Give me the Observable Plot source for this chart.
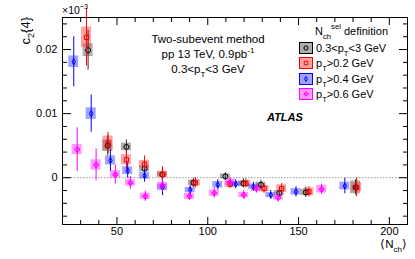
<!DOCTYPE html>
<html><head><meta charset="utf-8">
<script src="https://cdn.jsdelivr.net/npm/d3@7"></script>
<script src="https://cdn.jsdelivr.net/npm/@observablehq/plot@0.6"></script>
<style>body{margin:0;background:#fff;} svg{font-family:"Liberation Sans",Arial,sans-serif;}</style>
</head><body><div id="chart"></div>
<script>
// --- data ---
const grayX = [34.1, 44.9, 55.2, 65.2, 75.0, 92.1, 109.7, 119.6, 129.3, 139.4, 154.0, 181.4];
const grayY = [0.0199, 0.0050, 0.0048, 0.0014, 0.0005, -0.0008, 0.0002, -0.0009, -0.0011, -0.0024, -0.0023, -0.0015];
const grayStat = [0.0031, 0.0016, 0.0011, 0.0011, 0.0010, 0.0007, 0.0006, 0.0007, 0.0007, 0.0007, 0.0008, 0.0012];
const graySys = [0.0010, 0.0009, 0.0006, 0.0005, 0.0004, 0.0004, 0.0004, 0.0004, 0.0004, 0.0004, 0.0005, 0.0010];

const redX = [33.2, 45.1, 55.2, 65.2, 75.1, 93.2, 112.3, 121.0, 131.0, 140.7, 155.7, 182.0];
const redY = [0.0219, 0.0054, 0.0028, 0.0021, 0.0005, -0.0008, -0.0010, -0.0009, -0.0017, -0.0017, -0.0022, -0.0015];
const redStat = [0.0045, 0.0017, 0.0015, 0.0013, 0.0012, 0.0008, 0.0007, 0.0007, 0.0007, 0.0008, 0.0008, 0.0015];
const redSys = [0.0016, 0.0011, 0.0008, 0.0006, 0.0005, 0.0005, 0.0005, 0.0005, 0.0005, 0.0006, 0.0006, 0.0007];

const blueX = [26.2, 35.8, 46.4, 55.9, 65.2, 75.1, 90.3, 105.5, 115.4, 125.1, 134.7, 148.6, 175.5];
const blueY = [0.0181, 0.0100, 0.0027, 0.0011, 0.0003, -0.0015, -0.0019, -0.0011, -0.0010, -0.0014, -0.0027, -0.0022, -0.0013];
const blueStat = [0.0039, 0.0029, 0.0017, 0.0012, 0.0010, 0.0013, 0.0007, 0.0008, 0.0007, 0.0007, 0.0007, 0.0008, 0.0012];
const blueSys = [0.0009, 0.0009, 0.0007, 0.0006, 0.0005, 0.0005, 0.0004, 0.0005, 0.0004, 0.0004, 0.0004, 0.0005, 0.0006];

const magX = [28.1, 38.5, 49.1, 57.4, 65.6, 75.0, 89.9, 103.6, 112.3, 119.8, 126.8, 138.8, 162.7];
const magY = [0.0044, 0.0020, 0.0005, -0.0008, -0.0029, -0.0012, -0.0029, -0.0024, -0.0007, -0.0027, -0.0017, -0.0031, -0.0018];
const magStat = [0.0034, 0.0025, 0.0015, 0.0010, 0.0008, 0.0010, 0.0007, 0.0008, 0.0007, 0.0007, 0.0007, 0.0007, 0.0008];
const magSys = [0.0008, 0.0008, 0.0006, 0.0005, 0.0005, 0.0005, 0.0005, 0.0005, 0.0005, 0.0004, 0.0004, 0.0004, 0.0006];

const xMajor = [50, 100, 150, 200];
const xMinor = [30, 40, 60, 70, 80, 90, 110, 120, 130, 140, 160, 170, 180, 190];
const yMajor = [0, 0.01, 0.02];
const yMinor = [-0.006, -0.004, -0.002, 0.002, 0.004, 0.006, 0.008, 0.012, 0.014, 0.016, 0.018, 0.022, 0.024];
const yTickLabels = ["0", "0.01", "0.02"];

const legendLabels = [["0.3<p", "T", "<3 GeV"], ["p", "T", ">0.2 GeV"], ["p", "T", ">0.4 GeV"], ["p", "T", ">0.6 GeV"]];

// --- build ---
const rows = (X, Y, S, Sy) => X.map((x, i) => ({x, y: Y[i], s: S[i], sy: Sy[i]}));
const series = [
  {data: rows(grayX, grayY, grayStat, graySys), box: "rgba(120,120,120,0.6)", boxStroke: "#000", line: "#333", mark: "#000", symbol: "circle", r: 2.5},
  {data: rows(redX, redY, redStat, redSys), box: "rgba(255,70,70,0.5)", boxStroke: "#f00", line: "#f00", mark: "#e00", symbol: "square", r: 2.4},
  {data: rows(blueX, blueY, blueStat, blueSys), box: "rgba(70,70,255,0.5)", boxStroke: "#00f", line: "#00f", mark: "#00f", symbol: "diamond", r: 1.8},
  {data: rows(magX, magY, magStat, magSys), box: "rgba(255,60,255,0.5)", boxStroke: "#f0f", line: "#f0f", mark: "#f0f", symbol: "cross", r: 2.0}
];

const marks = [Plot.ruleY([0], {stroke: "#999", strokeDasharray: "1.5,1.5"})];
for (const s of series) {
  marks.push(Plot.rect(s.data, {x1: "x", x2: "x", y1: d => d.y - d.sy, y2: d => d.y + d.sy, insetLeft: -5, insetRight: -5, fill: s.box}));
}
for (const s of series) {
  marks.push(Plot.ruleX(s.data, {x: "x", y1: d => d.y - d.s, y2: d => d.y + d.s, stroke: s.line, strokeWidth: 1}));
  marks.push(Plot.dot(s.data, {x: "x", y: "y", symbol: s.symbol, r: s.r, stroke: s.mark, fill: "none", strokeWidth: 1}));
}
const fs = 11;
marks.push(
  Plot.frame({stroke: "#000"}),
  Plot.axisX(xMajor, {anchor: "bottom", tickSize: -7, tickPadding: 10, fontSize: fs, tickFormat: d => String(d), label: null}),
  Plot.axisX(xMinor, {anchor: "bottom", tickSize: -4, tickFormat: () => "", label: null}),
  Plot.axisX(xMajor, {anchor: "top", tickSize: -7, tickFormat: () => "", label: null}),
  Plot.axisX(xMinor, {anchor: "top", tickSize: -4, tickFormat: () => "", label: null}),
  Plot.axisY(yMajor, {anchor: "left", tickSize: -9, tickPadding: 14, fontSize: fs, tickFormat: (d, i) => yTickLabels[i], label: null}),
  Plot.axisY(yMinor, {anchor: "left", tickSize: -5, tickFormat: () => "", label: null}),
  Plot.axisY(yMajor, {anchor: "right", tickSize: -9, tickFormat: () => "", label: null}),
  Plot.axisY(yMinor, {anchor: "right", tickSize: -5, tickFormat: () => "", label: null})
);

const chart = Plot.plot({
  width: 415, height: 259,
  marginLeft: 62, marginRight: 8, marginTop: 17, marginBottom: 35,
  x: {domain: [20, 210]},
  y: {domain: [-0.0073, 0.025]},
  style: {fontFamily: "Liberation Sans, Arial, sans-serif", color: "#000", background: "#fff"},
  marks
});
document.getElementById("chart").append(chart);

// --- annotations ---
const svg = d3.select(chart);
const g = svg.append("g").attr("font-family", "Liberation Sans, Arial, sans-serif").attr("fill", "#000");
function rich(x, y, parts, opts = {}) {
  const t = g.append("text").attr("x", x).attr("y", y).attr("font-size", opts.size || 11)
    .attr("text-anchor", opts.anchor || "start");
  if (opts.weight) t.attr("font-weight", opts.weight);
  if (opts.style) t.attr("font-style", opts.style);
  if (opts.transform) t.attr("transform", opts.transform);
  for (const p of parts) {
    const ts = t.append("tspan").text(p.t);
    if (p.small) ts.attr("font-size", "0.7em");
    if (p.dy) ts.attr("dy", p.dy);
  }
  return t;
}
// y label
rich(0, 0, [{t: "c"}, {t: "2", small: 1, dy: 4}, {t: "{4}", dy: -4}], {size: 13, anchor: "end", transform: "translate(30,17) rotate(-90)"});
// x10^-3
rich(62, 14, [{t: "\u00d710"}, {t: "\u22123", small: 1, dy: -5}], {size: 10.5});
// x label
rich(407, 248, [{t: "\u27e8N"}, {t: "ch", small: 1, dy: 4}, {t: "\u27e9", dy: -4}], {size: 11.5, anchor: "end"});
// annotation
rich(208, 43, [{t: "Two-subevent method"}], {size: 11.5, anchor: "middle"});
rich(208, 58, [{t: "pp 13 TeV, 0.9pb"}, {t: "-1", small: 1, dy: -5}], {size: 11.5, anchor: "middle"});
rich(208, 73, [{t: "0.3<p"}, {t: "T", small: 1, dy: 4}, {t: "<3 GeV", dy: -4}], {size: 11.5, anchor: "middle"});
rich(267, 121, [{t: "ATLAS"}], {size: 11, weight: "bold", style: "italic"});
// legend
rich(315, 35, [{t: "N"}, {t: "ch", small: 1, dy: 4}, {t: "sel", small: 1, dx: 0, dy: -10}, {t: " definition", dy: 6}], {size: 11});
const legY = [48, 63, 79, 94];
series.forEach((s, i) => {
  const cy = legY[i];
  g.append("rect").attr("x", 299.5).attr("y", cy - 5.5).attr("width", 13).attr("height", 11)
    .attr("fill", s.box).attr("stroke", s.boxStroke).attr("stroke-width", 1);
  const sym = d3.symbol(s.symbol === "circle" ? d3.symbolCircle : s.symbol === "square" ? d3.symbolSquare : s.symbol === "diamond" ? d3.symbolDiamond : d3.symbolCross, Math.PI * s.r * s.r * 0.7);
  g.append("path").attr("d", sym()).attr("transform", `translate(306,${cy})`).attr("fill", "none").attr("stroke", s.mark);
  const L = legendLabels[i];
  rich(316, cy + 4, [{t: L[0]}, {t: L[1], small: 1, dy: 4}, {t: L[2], dy: -4}], {size: 11});
});
</script></body></html>
